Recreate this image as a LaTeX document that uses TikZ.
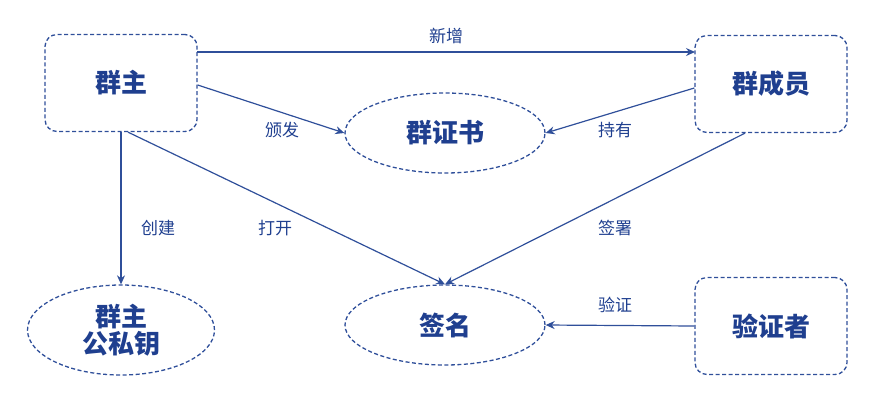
\documentclass[tikz,border=0pt]{standalone}
\usepackage{fontspec}
\setmainfont{Noto Sans CJK SC}
\usetikzlibrary{shapes.geometric,arrows.meta}
\definecolor{lineblue}{HTML}{2F4F9A}
\definecolor{textblue}{HTML}{1F3F8F}
\tikzset{
  rolebox/.style={draw=lineblue, line width=1.3pt, dash pattern=on 4pt off 2.5pt, rounded corners=12pt, minimum width=152pt, minimum height=97pt, font=\fontsize{26}{31}\selectfont\bfseries, text=textblue, align=center},
  itembox/.style={draw=lineblue, line width=1.3pt, dash pattern=on 4pt off 2.5pt, ellipse, minimum width=200pt, minimum height=80pt, font=\fontsize{26}{31}\selectfont\bfseries, text=textblue, align=center},
  link/.style={draw=lineblue, line width=1.2pt, -{Stealth[length=9pt,width=8pt]}},
  tag/.style={font=\fontsize{17}{20}\selectfont, text=textblue}
}
\begin{document}
\begin{tikzpicture}[x=1pt, y=-1pt]
  \useasboundingbox (0,0) rectangle (872,402);

  % roles
  \node[rolebox] (owner) at (121,83) {群主};
  \node[rolebox] (member) at (771,84) {群成员};
  \node[rolebox] (verifier) at (771,326) {验证者};

  % items
  \node[itembox] (cert) at (445,133) {群证书};
  \node[itembox] (sign) at (445,325) {签名};
  \node[itembox, minimum width=187pt, minimum height=90pt] (keys) at (121,330) {群主\\[-4pt]公私钥};

  % links
  \coordinate (o1) at (197,52);
  \coordinate (m1) at (695,52);
  \draw[link] (o1) -- node[tag, above=4pt] {新增} (m1);
  \draw[link] (owner.east |- 0,85) -- (cert.west);
  \node[tag] (t1) at (282,130) {颁发};
  \draw[link] (member.west |- 0,88) -- (cert.east);
  \node[tag] (t2) at (615,130) {持有};
  \draw[link] (owner.south) -- (keys.north);
  \node[tag] (t3) at (158,228) {创建};
  \draw[link] (owner.south -| 128,0) -- (sign.north);
  \node[tag] (t4) at (275,228) {打开};
  \draw[link] (member.south -| 745,0) -- (sign.north);
  \node[tag] (t5) at (615,228) {签署};
  \draw[link] (verifier.west) -- (sign.east);
  \node[tag] (t6) at (615,305) {验证};
\end{tikzpicture}
\end{document}
